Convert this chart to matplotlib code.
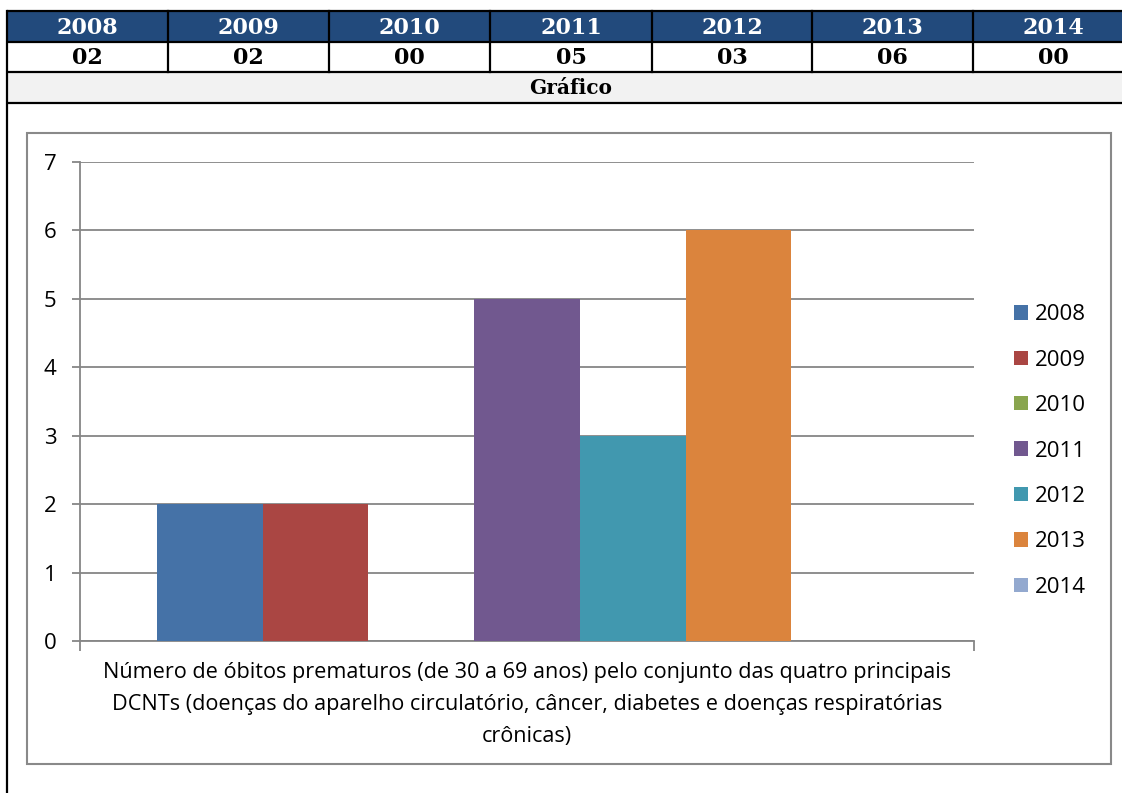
import matplotlib
matplotlib.use("Agg")
import matplotlib.pyplot as plt
from matplotlib.patches import Rectangle

# ---------------- data ----------------
years = ["2008", "2009", "2010", "2011", "2012", "2013", "2014"]
deaths = [2, 2, 0, 5, 3, 6, 0]
table_values = ["02", "02", "00", "05", "03", "06", "00"]
category = ("Número de óbitos prematuros (de 30 a 69 anos) pelo conjunto das quatro principais\n"
            "DCNTs (doenças do aparelho circulatório, câncer, diabetes e doenças respiratórias\n"
            "crônicas)")
colors = ["#4572A7", "#AA4643", "#89A54E", "#71588F", "#4198AF", "#DB843D", "#93A9CF"]

W, H = 1122, 793
fig = plt.figure(figsize=(W / 100, H / 100), dpi=100)

# background axes in pixel coordinates for the table and frames
bg = fig.add_axes([0, 0, 1, 1])
bg.set_xlim(0, W)
bg.set_ylim(H, 0)
bg.axis("off")

serif = "DejaVu Serif"
sans = "Open Sans"

tab_left, tab_right = 7, 1134
col_edges = [7, 168, 329, 490, 652, 812, 973, 1134]
row_edges = [11, 42, 72, 103]
blue = "#224A7C"

# header row background
bg.add_patch(Rectangle((tab_left, row_edges[0]), tab_right - tab_left, row_edges[1] - row_edges[0],
                       facecolor=blue, edgecolor="none"))
# "Gráfico" row background
bg.add_patch(Rectangle((tab_left, row_edges[2]), tab_right - tab_left, row_edges[3] - row_edges[2],
                       facecolor="#F2F2F2", edgecolor="none"))

for i, (yr, val) in enumerate(zip(years, table_values)):
    cx = (col_edges[i] + col_edges[i + 1]) / 2
    bg.text(cx, (row_edges[0] + row_edges[1]) / 2 + 1, yr, ha="center", va="center",
            color="white", fontsize=16, fontweight="bold", family=serif)
    bg.text(cx, (row_edges[1] + row_edges[2]) / 2 + 1, val, ha="center", va="center",
            color="black", fontsize=16, fontweight="bold", family=serif)
bg.text((tab_left + tab_right) / 2, (row_edges[2] + row_edges[3]) / 2 + 1, "Gráfico",
        ha="center", va="center", color="black", fontsize=14.5, fontweight="bold", family=serif)

# table lines
lw_t = 1.6
for y in row_edges:
    bg.plot([tab_left, tab_right], [y, y], color="black", lw=lw_t, solid_capstyle="butt")
for x in col_edges[1:-1]:
    bg.plot([x, x], [row_edges[0], row_edges[2]], color="black", lw=lw_t)
bg.plot([tab_left, tab_left], [row_edges[0], H + 2], color="black", lw=lw_t)

# chart frame
bg.add_patch(Rectangle((27, 133), 1111 - 27, 764 - 133, facecolor="white",
                       edgecolor="#898989", lw=1.5))

# ---------------- chart ----------------
pl, pr, pt, pb = 80, 974, 162, 641
ax = fig.add_axes([pl / W, 1 - pb / H, (pr - pl) / W, (pb - pt) / H])
ax.set_facecolor("none")

n = len(years)
w = 0.828 / n
for i, (yr, v, c) in enumerate(zip(years, deaths, colors)):
    ax.bar((i - (n - 1) / 2) * w, v, width=w, color=c, label=yr, linewidth=0, zorder=3)

grey = "#868686"
ax.set_xlim(-0.5, 0.5)
ax.set_ylim(0, 7)
ax.set_yticks(range(0, 8))
ax.yaxis.grid(True, color=grey, lw=1.3, zorder=0)
ax.set_axisbelow(True)

for s in ["top", "right"]:
    ax.spines[s].set_visible(False)
for s in ["left", "bottom"]:
    ax.spines[s].set_color(grey)
    ax.spines[s].set_linewidth(1.3)

ax.tick_params(axis="y", length=6, width=1.3, color=grey, direction="out", pad=11,
               labelsize=16, labelcolor="black")
for lab in ax.get_yticklabels():
    lab.set_family(sans)

ax.set_xticks([0])
ax.set_xticklabels([category], family=sans, fontsize=15.6, linespacing=1.68)
ax.tick_params(axis="x", which="major", length=0, pad=15)
ax.set_xticks([-0.5, 0.5], minor=True)
ax.tick_params(axis="x", which="minor", length=7, width=1.3, color=grey, direction="out")

leg = ax.legend(loc="center left", bbox_to_anchor=(1014 / W, 1 - 451 / H),
                bbox_transform=fig.transFigure, frameon=False,
                prop={"family": sans, "size": 16}, handlelength=0.62, handleheight=0.62,
                handletextpad=0.3, labelspacing=1.1, borderaxespad=0, borderpad=0)

fig.savefig("out.png", dpi=100)
